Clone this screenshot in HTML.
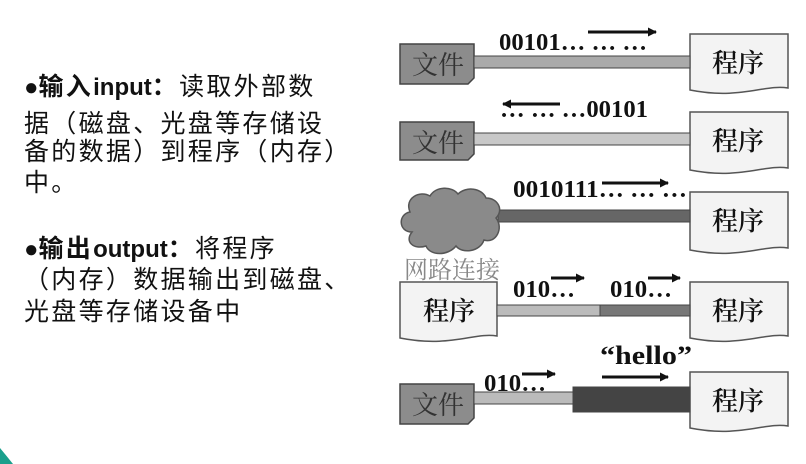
<!DOCTYPE html>
<html><head><meta charset="utf-8"><style>
html,body{margin:0;padding:0;background:#fff;width:806px;height:464px;overflow:hidden}
svg{display:block}
.cn{font-family:"Liberation Sans","Noto Sans CJK SC",sans-serif;font-size:25px;fill:#111;letter-spacing:2.3px}
.lat{letter-spacing:0;font-size:24px}
.b{font-family:"Liberation Serif",serif;font-weight:bold;font-size:24px;fill:#111}
.box{font-family:"Noto Serif CJK SC","Liberation Serif",serif;font-size:26px;fill:#111;font-weight:600}
</style></head><body>
<svg width="806" height="464" viewBox="0 0 806 464" xmlns="http://www.w3.org/2000/svg">
<defs>
<marker id="ah" markerWidth="9" markerHeight="9" refX="8" refY="4.5" orient="auto" markerUnits="userSpaceOnUse" viewBox="0 0 9 9"><path d="M0,0 L9,4.5 L0,9 Z" fill="#111"/></marker>
</defs>
<g class="cn">
<text x="24" y="95"><tspan font-weight="bold" font-size="28" class="lat">●</tspan><tspan font-weight="bold">输入</tspan><tspan font-weight="bold" class="lat">input</tspan><tspan font-weight="bold">：</tspan>读取外部数</text>
<text x="24" y="132">据（磁盘、光盘等存储设</text>
<text x="24" y="160">备的数据）到程序（内存）</text>
<text x="24" y="191">中。</text>
<text x="24" y="257"><tspan font-weight="bold" font-size="28" class="lat">●</tspan><tspan font-weight="bold">输出</tspan><tspan font-weight="bold" class="lat">output</tspan><tspan font-weight="bold">：</tspan>将程序</text>
<text x="24" y="288">（内存）数据输出到磁盘、</text>
<text x="24" y="320">光盘等存储设备中</text>
</g>
<path d="M0,448 C5,454 9,459 13,464 L0,464 Z" fill="#1aa08c"/>

<g fill="#f3f3f3" stroke="#555" stroke-width="1.5">
<path d="M690,34 H788 V88 C765,84 740,100 690,90 Z"/>
<path d="M690,112 H788 V168 C765,164 740,180 690,170 Z"/>
<path d="M690,192 H788 V248 C765,244 740,260 690,250 Z"/>
<path d="M690,282 H788 V336 C765,332 740,348 690,338 Z"/>
<path d="M690,372 H788 V426 C765,422 740,438 690,428 Z"/>
<path d="M400,282 H497 V336 C475,332 450,348 400,338 Z"/>
</g>
<g class="box">
<text x="712" y="72">程序</text>
<text x="712" y="150">程序</text>
<text x="712" y="230">程序</text>
<text x="712" y="320">程序</text>
<text x="712" y="410">程序</text>
<text x="423" y="320">程序</text>
</g>
<g fill="#8c8c8c" stroke="#444" stroke-width="1.5">
<path d="M400,44 H474 V78 L468,84 H400 Z"/>
<path d="M400,122 H474 V154 L468,160 H400 Z"/>
<path d="M400,384 H474 V418 L468,424 H400 Z"/>
</g>
<g class="box">
<text x="412" y="74" style="fill:#333;font-weight:normal">文件</text>
<text x="412" y="152" style="fill:#333;font-weight:normal">文件</text>
<text x="412" y="414" style="fill:#333;font-weight:normal">文件</text>
</g>
<g stroke="#444" stroke-width="1">
<rect x="474" y="56" width="216" height="12" fill="#aaa"/>
<rect x="474" y="133" width="216" height="12" fill="#c8c8c8"/>
<rect x="498" y="210" width="192" height="12" fill="#666"/>
<rect x="497" y="305" width="103" height="11" fill="#bbb"/>
<rect x="600" y="305" width="90" height="11" fill="#777"/>
<rect x="474" y="392" width="99" height="12" fill="#bbb"/>
<rect x="573" y="387" width="117" height="25" fill="#444"/>
</g>
<path d="M412,232 C398,232 398,214 410,212 C404,198 420,190 430,196 C436,186 452,186 458,194 C466,186 482,188 486,198 C498,198 504,210 496,218 C504,228 496,244 484,240 C480,252 462,254 456,246 C448,256 430,256 426,246 C414,250 404,242 412,232 Z" fill="#8a8a8a" stroke="#555" stroke-width="1.5"/>
<text x="404" y="278" class="box" style="fill:#888;font-size:24px;font-weight:normal">网路连接</text>
<g class="b">
<text x="499" y="50" textLength="148" lengthAdjust="spacingAndGlyphs">00101… … …</text>
<text x="500" y="117" textLength="148" lengthAdjust="spacingAndGlyphs">… … …00101</text>
<text x="513" y="197" textLength="174" lengthAdjust="spacingAndGlyphs">0010111… … …</text>
<text x="513" y="297" textLength="62" lengthAdjust="spacingAndGlyphs">010…</text>
<text x="610" y="297" textLength="62" lengthAdjust="spacingAndGlyphs">010…</text>
<text x="484" y="391" textLength="62" lengthAdjust="spacingAndGlyphs">010…</text>
<text x="600" y="364" style="font-size:26px" textLength="92" lengthAdjust="spacingAndGlyphs">“hello”</text>
</g>
<g stroke="#111" stroke-width="3" marker-end="url(#ah)">
<line x1="588" y1="32" x2="656" y2="32"/>
<line x1="560" y1="104" x2="503" y2="104"/>
<line x1="602" y1="183" x2="668" y2="183"/>
<line x1="551" y1="278" x2="584" y2="278"/>
<line x1="648" y1="278" x2="680" y2="278"/>
<line x1="522" y1="374" x2="555" y2="374"/>
<line x1="602" y1="377" x2="668" y2="377"/>
</g>
</svg>
</body></html>
